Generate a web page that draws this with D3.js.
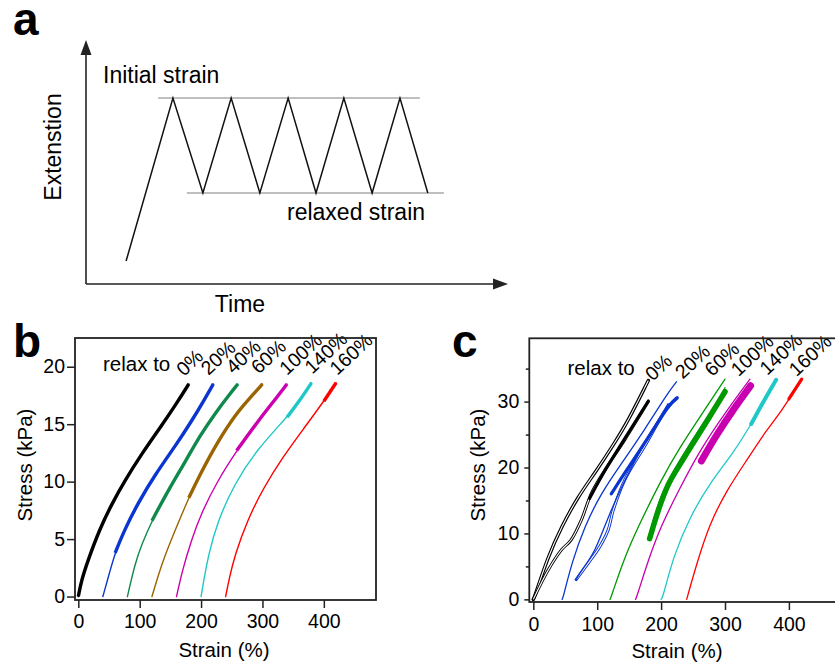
<!DOCTYPE html>
<html>
<head>
<meta charset="utf-8">
<script src="https://cdn.jsdelivr.net/npm/d3@7"></script>
<style>
  body { margin: 0; background: #fff; }
  svg { display: block; font-family: "Liberation Sans", Arial, Helvetica, sans-serif; }
</style>
</head>
<body>
<svg id="chart" width="835" height="666"></svg>
<script>
// ---------------- Panel a data (arbitrary units) ----------------
const aTime = [9.5, 20.6, 27.7, 34.4, 41.2, 47.9, 54.5, 61.1, 67.8, 74.4, 81.0];
const aExt  = [9.4, 76.2, 37.3, 76.2, 37.3, 76.2, 37.3, 76.2, 37.3, 76.2, 37.3];
const aInitialLevel = 76.2, aInitialSpan = [17.1, 79.1];
const aRelaxedLevel = 37.3, aRelaxedSpan = [23.9, 84.8];

// ---------------- Panel b data ----------------
const bLabels = ["0%", "20%", "40%", "60%", "100%", "140%", "160%"];
const bColors = ["#000000", "#0a35d0", "#0f8a4c", "#9a6400", "#cc00b0", "#1ec8c8", "#ff0000"];
const bCurves = [
  [[0,0],[5,1.4],[16,3.2],[35,5.9],[55,8.1],[76,10.1],[103,12.4],[136,14.9],[160,16.8],[180,18.5]],
  [[40,0],[52,2.3],[60,3.8],[76,5.9],[98,8.2],[125,10.6],[158,13.1],[185,15.3],[205,17.1],[220,18.5]],
  [[80,0],[92,2.8],[103,4.5],[120,6.6],[147,9.3],[175,11.8],[198,14.0],[225,16.1],[245,17.5],[260,18.5]],
  [[120,0],[136,2.9],[158,5.8],[180,8.6],[199,10.7],[226,13.4],[258,16.0],[280,17.3],[300,18.5]],
  [[160,0],[170,2.4],[185,5.0],[199,7.1],[226,10.0],[258,12.7],[296,15.5],[320,17.1],[340,18.5]],
  [[200,0],[205,1.6],[212,3.6],[226,6.4],[253,9.7],[291,12.8],[340,15.6],[360,17.0],[380,18.6]],
  [[240,0],[246,1.6],[255,3.6],[275,6.6],[302,9.5],[334,12.2],[367,14.6],[400,17.0],[420,18.6]]
];
const bCycleFrom = [0, 60, 120, 180, 258, 340, 400];
const bLabelAt = [[172,19.1],[212,19.2],[253,19.3],[294,19.3],[340,19.2],[381,19.3],[422,19.2]];
const bTicksX = [0, 100, 200, 300, 400];
const bTicksY = [0, 5, 10, 15, 20];

// ---------------- Panel c data ----------------
const cLabels = ["0%", "20%", "60%", "100%", "140%", "160%"];
const cColors = ["#000000", "#0a35d0", "#009a00", "#c800b0", "#1ec8c8", "#ff0000"];
// each series: list of [style, width, points]
const cSeries = [
  [ ["double", 3.4, [[0,0],[2,0.4],[23,6.5],[44,11],[70,15.6],[96,19.1],[127,23.7],[148,27],[180,33.2]]],
    ["doublek", 3.0, [[0,0],[23,4.4],[44,7.5],[59,9],[75,12],[91,16.1],[112,19.6],[143,24.2],[180,30]]],
    ["thick", 3.0, [[88,15.3],[112,19.6],[143,24.4],[180,30.1]]] ],
  [ ["thin", 1.3, [[45,0],[47,0.4],[60,5.5],[80,11],[106,16.1],[138,20.6],[174,25.7],[211,31.4],[224,33]]],
    ["doublek", 3.0, [[67,3],[86,5.5],[104,8],[117,10.5],[125,13.5],[143,18.1],[174,23.2],[211,29.2],[225,30.5]]],
    ["thin", 1.3, [[67,3],[75,4.4],[96,7],[117,12.5],[140,17.5],[174,23.8],[211,29.7]]],
    ["thick", 3.2, [[122,16],[143,19.2],[174,23.6],[211,29.4],[225,30.6]]] ],
  [ ["thin", 1.3, [[120,0],[122,0.4],[143,6.5],[169,12],[200,18.1],[229,23],[261,27.7],[300,33.4]]],
    ["thick", 5.5, [[182,9.2],[195,13.5],[211,17.6],[224,19.6],[250,23.7],[276,27.7],[300,31.5]]],
    ["thin", 1.3, [[183,10.2],[192,13.6],[207,17.3],[232,21.6],[262,26.2],[285,29.3],[300,32.1]]] ],
  [ ["thin", 1.3, [[160,0],[162,0.4],[180,6],[200,11.2],[229,16.8],[261,22.7],[303,28.7],[339,33.4]]],
    ["thick", 7.0, [[263,21.0],[287,25.0],[313,28.8],[340,32.4]]] ],
  [ ["thin", 1.3, [[200,0],[203,0.4],[219,6.5],[245,12.5],[276,17.6],[313,22.2],[342,26.7],[380,33.3]]],
    ["thick", 4.0, [[341,26.6],[360,30],[380,33.3]]] ],
  [ ["thin", 1.3, [[240,0],[256,5.5],[276,11.5],[303,16.6],[334,21.1],[365,25.7],[386,28.2],[420,33.3]]],
    ["thick", 3.2, [[400,30.4],[420,33.4]]] ]
];
const cLabelAt = [[187,33.0],[234,33.3],[280,33.7],[321,33.7],[366,33.9],[412,33.7]];
const cTicksX = [0, 100, 200, 300, 400];
const cTicksY = [0, 10, 20, 30];
const cMinorY = [5, 15, 25, 35];

// ---------------- Drawing ----------------
const svg = d3.select("#chart");
svg.append("rect").attr("width", 835).attr("height", 666).attr("fill", "#fff");
const AX = "#222";

// ===== Panel a =====
const xA = d3.scaleLinear([0, 100], [86, 508]);
const yA = d3.scaleLinear([0, 100], [284, 40]);
const ga = svg.append("g");
ga.append("text").text("a").attr("x", 13).attr("y", 35)
  .attr("font-size", 46).attr("font-weight", "bold");
ga.append("line").attr("x1", xA(0)).attr("y1", yA(0)).attr("x2", xA(0)).attr("y2", yA(100) + 12)
  .attr("stroke", AX).attr("stroke-width", 1.6);
ga.append("line").attr("x1", xA(0)).attr("y1", yA(0)).attr("x2", xA(100) - 12).attr("y2", yA(0))
  .attr("stroke", AX).attr("stroke-width", 1.6);
ga.append("path").attr("d", `M${xA(0)},${yA(100)} l-5.5,15 l11,0 Z`).attr("fill", AX);
ga.append("path").attr("d", `M${xA(100)},${yA(0)} l-15,-5.5 l0,11 Z`).attr("fill", AX);
ga.append("line").attr("x1", xA(aInitialSpan[0])).attr("x2", xA(aInitialSpan[1]))
  .attr("y1", yA(aInitialLevel)).attr("y2", yA(aInitialLevel)).attr("stroke", "#aaa").attr("stroke-width", 1.5);
ga.append("line").attr("x1", xA(aRelaxedSpan[0])).attr("x2", xA(aRelaxedSpan[1]))
  .attr("y1", yA(aRelaxedLevel)).attr("y2", yA(aRelaxedLevel)).attr("stroke", "#aaa").attr("stroke-width", 1.5);
ga.append("path")
  .attr("d", d3.line().x(d => xA(d[0])).y(d => yA(d[1]))(aTime.map((t, i) => [t, aExt[i]])))
  .attr("fill", "none").attr("stroke", "#111").attr("stroke-width", 1.5).attr("stroke-linejoin", "miter");
ga.append("text").text("Initial strain").attr("x", 103).attr("y", 83).attr("font-size", 23);
ga.append("text").text("relaxed strain").attr("x", 287).attr("y", 220).attr("font-size", 23);
ga.append("text").text("Time").attr("x", 240).attr("y", 312).attr("font-size", 23).attr("text-anchor", "middle");
ga.append("text").text("Extenstion").attr("transform", "translate(61,147) rotate(-90)")
  .attr("font-size", 23).attr("text-anchor", "middle");

function interpAt(pts, x) {
  for (let i = 1; i < pts.length; i++) {
    if (pts[i][0] >= x) {
      const [x0, y0] = pts[i - 1], [x1, y1] = pts[i];
      const t = (x - x0) / (x1 - x0);
      return [x, y0 + t * (y1 - y0)];
    }
  }
  return pts[pts.length - 1];
}

// ===== Panel b =====
const xB = d3.scaleLinear([-5.4, 485], [75, 376]);
const yB = d3.scaleLinear([-0.3, 22.5], [600, 338]);
const gb = svg.append("g");
gb.append("text").text("b").attr("x", 13).attr("y", 357).attr("font-size", 46).attr("font-weight", "bold");
const lineB = d3.line().x(d => xB(d[0])).y(d => yB(d[1])).curve(d3.curveBasis);
bCurves.forEach((pts, i) => {
  gb.append("path").attr("d", lineB(pts)).attr("fill", "none")
    .attr("stroke", bColors[i]).attr("stroke-width", 1.4).attr("stroke-linecap", "round");
  const thick = [interpAt(pts, bCycleFrom[i])].concat(pts.filter(p => p[0] > bCycleFrom[i]));
  gb.append("path").attr("d", lineB(thick)).attr("fill", "none")
    .attr("stroke", bColors[i]).attr("stroke-width", 3.4).attr("stroke-linecap", "butt");
  gb.append("text").text(bLabels[i])
    .attr("transform", `translate(${xB(bLabelAt[i][0])},${yB(bLabelAt[i][1])}) rotate(-43)`)
    .attr("font-size", 19.5);
});
gb.append("text").text("relax to").attr("x", 103).attr("y", 371).attr("font-size", 20.5);
gb.append("rect").attr("x", 75).attr("y", 338).attr("width", 301).attr("height", 262)
  .attr("fill", "none").attr("stroke", AX).attr("stroke-width", 1.8);
const axBx = gb.append("g").attr("transform", "translate(0,600)")
  .call(d3.axisBottom(xB).tickValues(bTicksX).tickSize(8).tickPadding(6));
const axBy = gb.append("g").attr("transform", "translate(75,0)")
  .call(d3.axisLeft(yB).tickValues(bTicksY).tickSize(8).tickPadding(2));
[axBx, axBy].forEach(a => {
  a.select(".domain").remove();
  a.selectAll("line").attr("stroke", AX).attr("stroke-width", 1.5);
  a.selectAll("text").attr("font-size", 19.5).attr("fill", "#000")
    .attr("font-family", "Liberation Sans, Arial, sans-serif");
});
gb.append("text").text("Strain (%)").attr("x", 224).attr("y", 657).attr("font-size", 20.5).attr("text-anchor", "middle");
gb.append("text").text("Stress (kPa)").attr("transform", "translate(32,465) rotate(-90)")
  .attr("font-size", 20.5).attr("text-anchor", "middle");

// ===== Panel c =====
const xC = d3.scaleLinear([-6.3, 490], [529.3, 846.4]);
const yC = d3.scaleLinear([-0.4, 39.6], [602, 338.3]);
const gc = svg.append("g");
gc.append("text").text("c").attr("x", 452).attr("y", 357).attr("font-size", 46).attr("font-weight", "bold");
const lineCs = d3.line().x(d => xC(d[0])).y(d => yC(d[1])).curve(d3.curveBasis);
const lineCk = d3.line().x(d => xC(d[0])).y(d => yC(d[1])).curve(d3.curveCatmullRom.alpha(0.5));
cSeries.forEach((series, i) => {
  series.forEach(([style, w, pts]) => {
    const gen = style === "doublek" ? lineCk : lineCs;
    gc.append("path").attr("d", gen(pts)).attr("fill", "none")
      .attr("stroke", cColors[i]).attr("stroke-width", w).attr("stroke-linecap", "round");
    if (style === "double" || style === "doublek") {
      gc.append("path").attr("d", gen(pts)).attr("fill", "none")
        .attr("stroke", "#fff").attr("stroke-width", 1.1);
    }
  });
  gc.append("text").text(cLabels[i])
    .attr("transform", `translate(${xC(cLabelAt[i][0])},${yC(cLabelAt[i][1])}) rotate(-43)`)
    .attr("font-size", 19.5);
});
gc.append("text").text("relax to").attr("x", 567.5).attr("y", 375).attr("font-size", 20.5);
gc.append("rect").attr("x", 529.3).attr("y", 338.3).attr("width", 320).attr("height", 263.7)
  .attr("fill", "none").attr("stroke", AX).attr("stroke-width", 1.8);
const axCx = gc.append("g").attr("transform", "translate(0,602)")
  .call(d3.axisBottom(xC).tickValues(cTicksX).tickSize(8).tickPadding(7));
const axCy = gc.append("g").attr("transform", "translate(529.3,0)")
  .call(d3.axisLeft(yC).tickValues(cTicksY).tickSize(5).tickPadding(5));
const axCm = gc.append("g").attr("transform", "translate(529.3,0)")
  .call(d3.axisLeft(yC).tickValues(cMinorY).tickSize(3.5).tickFormat(""));
[axCx, axCy, axCm].forEach(a => {
  a.select(".domain").remove();
  a.selectAll("line").attr("stroke", AX).attr("stroke-width", 1.5);
  a.selectAll("text").attr("font-size", 19.5).attr("fill", "#000")
    .attr("font-family", "Liberation Sans, Arial, sans-serif");
});
gc.append("text").text("Strain (%)").attr("x", 677).attr("y", 658).attr("font-size", 20.5).attr("text-anchor", "middle");
gc.append("text").text("Stress (kPa)").attr("transform", "translate(485,465) rotate(-90)")
  .attr("font-size", 20.5).attr("text-anchor", "middle");
</script>
</body>
</html>
